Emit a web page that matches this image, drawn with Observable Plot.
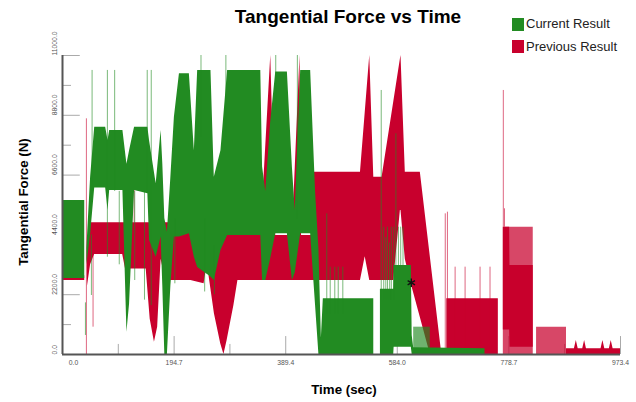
<!DOCTYPE html>
<html><head><meta charset="utf-8">
<script src="https://cdn.jsdelivr.net/npm/d3@7"></script>
<script src="https://cdn.jsdelivr.net/npm/@observablehq/plot@0.6"></script>
<style>
body{margin:0;background:#fff;font-family:"Liberation Sans",Arial,sans-serif;}
#wrap{position:relative;width:636px;height:402px;overflow:hidden;background:#fff;}
#chart{position:absolute;left:0;top:0;}
.t{position:absolute;white-space:nowrap;line-height:1;color:#000;}
.title{left:348px;top:6.6px;font-size:19px;font-weight:bold;transform:translateX(-50%);}
.xl{left:344px;top:382.7px;font-size:13.3px;font-weight:bold;transform:translateX(-50%);}
.yl{left:23.5px;top:202px;font-size:13.3px;font-weight:bold;transform:translate(-50%,-50%) rotate(-90deg);}
.lg{left:526px;font-size:13px;color:#222;}
.sw{position:absolute;left:511.5px;width:12.5px;height:12.8px;}
</style></head>
<body><div id="wrap">
<div id="chart"></div>
<div class="t title">Tangential Force vs Time</div>
<div class="t xl">Time (sec)</div>
<div class="t yl">Tangential Force (N)</div>
<div class="sw" style="top:18.2px;background:#228B22"></div>
<div class="t lg" style="top:17.3px">Current Result</div>
<div class="sw" style="top:40.4px;background:#C8002D"></div>
<div class="t lg" style="top:40px">Previous Result</div>
</div>
<script>
// axis ticks
const xMajor = [0, 194.7, 389.4, 584.0, 778.7, 973.4];
const xMinor = [97.35, 292.05, 486.7, 681.35, 876.05];
const yMajor = [0, 2200, 4400, 6600, 8800, 11000];
const yMinor = [1100, 3300, 5500, 7700, 9900];

// Current Result (green) – envelope of the oscillating signal
const greenT  = [0, 38.8, null, 42.5, 49, 56.2, 75.3, 79.4, 82.3, 105.4, 112.4, 117, 125.7, 148.9, 151.8, 163.4, 172, 175, 178.5, 183, 189, 195.2, 204, 221.3, 230, 235.8, 259, 264.8, 276.4, 288, 345.9, 349, 354.6, 363, 372, 392.3, 401, 406, 415.5, 432.9, 441.5, 447.3, 451.6, 455, 543, null, 554.6, 577.8, 578.5, 608.5, 610, 612.6, 737];
const greenLo = [2800, 2800, null, 3300, 4400, 6130, 6130, 5300, 6030, 6030, 820, 1860, 6030, 5910, 4200, 3580, 4320, 2500, 0, 0, 2500, 4320, 4320, 4440, 3580, 3200, 2850, 2720, 3830, 4380, 4380, 2720, 2720, 3500, 4440, 4440, 2720, 3000, 4440, 4440, 1780, 0, 0, 0, 0, null, 0, 0, 270, 270, 0, 0, 0];
const greenHi = [5670, 5670, null, 3900, 6500, 8360, 8360, 7870, 8240, 8240, 7000, 7500, 8360, 8360, 7870, 6280, 8240, 7000, 5000, 4500, 6500, 8730, 10330, 10330, 7500, 10450, 10450, 6520, 7500, 10450, 10450, 6900, 6000, 8500, 10390, 10390, 6900, 5300, 10450, 10450, 5970, 3900, 600, 2049, 2049, null, 2400, 2400, 3274, 3274, 700, 250, 208];
const greenLightT  = [612.6, 641.6];
const greenLightLo = [0, 0];
const greenLightHi = [1005, 1005];
const greenSpikeT   = [40, 50.4, 51.6, 78.3, 91, 99, 126, 143, 147.8, 154.8, 196, 241.6, 248, 265, 285, 372, 409.7, 461, 467, 475, 481, 489, 556, 560.4, 564, 567, 570.7, 573.6, 577.8, 581.6, 586, 590, 594];
const greenSpikeLo  = [700, 2170, 5900, 3580, 6000, 3300, 2722, 2000, 6000, 1800, 2600, 8000, 2300, 2200, 8000, 9000, 5000, 1500, 1500, 1500, 1500, 1500, 2000, 2000, 2000, 2000, 2000, 2000, 2000, 3274, 3274, 3274, 3274];
const greenSpikeHi  = [1900, 4400, 10450, 10450, 10450, 6000, 6000, 6000, 10450, 10450, 5000, 11000, 5000, 4000, 11000, 11000, 11000, 5175, 3213, 3213, 3213, 3213, 9713, 4684, 4300, 4684, 4100, 4684, 4684, 8120, 4684, 4684, 4684];

// Previous Result (red)
const redT  = [0, 38.8, null, 43.5, 49, 56, 105, 110, 146, 153, 160.4, 166, 172, 180, 224, 247, 252.6, 265, 276, 281.6, 287, 299, 306, 346, 363.3, 372, 401, 414.3, 417, 438, 438.6, 519.8, 528, 536, 543, 557.5, 577.8, 589.4, 590.5, 598, 606.7, 624.2, 641.6, 661.7, null, 670.4, 760.3, null, 769, 780, 780.6, 821.2, null, 879.2, 893, 896.3, 899.6, 907.5, 910.8, 914, 939.5, 942.7, 946, 954, 957.2, 960.5, 973.4];
const redLo = [2720, 2720, null, 2500, 3300, 3679, 3679, 3150, 3150, 1300, 450, 1000, 3500, 2722, 2722, 2600, 3340, 1500, 400, 0, 500, 1800, 2722, 2722, 2722, 2722, 2722, 2722, 2722, 2722, 2722, 2722, 3600, 2722, 2722, 2722, 2722, 5300, 5300, 3500, 2722, 1361, 0, 0, null, 0, 0, null, 900, 900, 270, 270, null, 0, 0, 0, 0, 0, 0, 0, 0, 0, 0, 0, 0, 0, 0];
const redHi = [2900, 2900, null, 3800, 4845, 4845, 4845, 4845, 4845, 4845, 4845, 4845, 4845, 4845, 4845, 4845, 4845, 4845, 4845, 4845, 4845, 4600, 4378, 4378, 11000, 4378, 4378, 11000, 4378, 4378, 6707, 6707, 8880, 11000, 6524, 6524, 9277, 10864, 11000, 6707, 6707, 6707, 3595, 0, null, 2049, 2049, null, 4684, 4684, 3274, 3274, null, 208, 208, 515, 208, 208, 515, 208, 208, 515, 208, 208, 515, 208, 208];
const redLightT  = [769, 821.2, null, 827, 879.2];
const redLightLo = [0, 0, null, 0, 0];
const redLightHi = [4684, 4684, null, 1005, 1005];
const redSpikeT  = [41.7, 53.3, 125, 667.7, 671.5, 684.9, 702.3, 728.4, 745.8, 769, 771];
const redSpikeLo = [0, 1005, 4845, 0, 0, 0, 0, 0, 0, 4684, 4684];
const redSpikeHi = [8670, 3679, 6030, 5175, 5236, 3213, 3213, 3213, 3213, 9713, 5360];

// marker
const markerT = [608.5];
const markerV = [2637];

const GREEN = "#228B22", RED = "#C8002D";
const rows = (t, lo, hi) => t.map((d, i) => ({t: d, lo: lo[i], hi: hi[i]}));

const chart = Plot.plot({
  width: 636, height: 402,
  marginLeft: 62, marginRight: 16, marginTop: 55, marginBottom: 48,
  x: {domain: [0, 973.4], axis: null},
  y: {domain: [0, 11000], axis: null},
  style: {background: "transparent", fontFamily: "Liberation Sans, Arial, sans-serif", overflow: "visible"},
  marks: [
    Plot.ruleX(xMajor, {y1: 0, y2: 660, stroke: "#aaa"}),
    Plot.ruleX(xMinor, {y1: 0, y2: 370, stroke: "#aaa"}),
    Plot.ruleY(yMajor, {x1: 0, x2: 31, stroke: "#aaa"}),
    Plot.ruleY(yMinor, {x1: 0, x2: 15.7, stroke: "#aaa"}),
    Plot.areaY(rows(redT, redLo, redHi), {x: "t", y1: "lo", y2: "hi", fill: RED}),
    Plot.areaY(rows(redLightT, redLightLo, redLightHi), {x: "t", y1: "lo", y2: "hi", fill: RED, fillOpacity: 0.72}),
    Plot.ruleX(rows(redSpikeT, redSpikeLo, redSpikeHi), {x: "t", y1: "lo", y2: "hi", stroke: RED, strokeOpacity: 0.6}),
    Plot.areaY(rows(greenT, greenLo, greenHi), {x: "t", y1: "lo", y2: "hi", fill: GREEN}),
    Plot.areaY(rows(greenLightT, greenLightLo, greenLightHi), {x: "t", y1: "lo", y2: "hi", fill: GREEN, fillOpacity: 0.65}),
    Plot.ruleX(rows(greenSpikeT, greenSpikeLo, greenSpikeHi), {x: "t", y1: "lo", y2: "hi", stroke: GREEN, strokeOpacity: 0.6}),
    Plot.dot(markerT.map((t, i) => ({t, v: markerV[i]})), {x: "t", y: "v", symbol: "asterisk", r: 4, stroke: "#111", strokeWidth: 1.4}),
    Plot.ruleX([0], {stroke: "#555", strokeWidth: 2}),
    Plot.ruleY([0], {stroke: "#555", strokeWidth: 2}),
    Plot.text(xMajor.slice(0, 1), {x: d => d, text: d => d.toFixed(1), frameAnchor: "bottom", dy: 10, dx: 11, fontSize: 6.8, fill: "#555"}),
    Plot.text(xMajor.slice(1), {x: d => d, text: d => d.toFixed(1), frameAnchor: "bottom", dy: 10, fontSize: 6.8, fill: "#555"}),
    Plot.text(yMajor, {y: d => d, text: d => d.toFixed(1), frameAnchor: "left", dx: -8, rotate: -90, fontSize: 6.8, fill: "#555"})
  ]
});
document.getElementById("chart").appendChild(chart);
</script>
</body></html>
